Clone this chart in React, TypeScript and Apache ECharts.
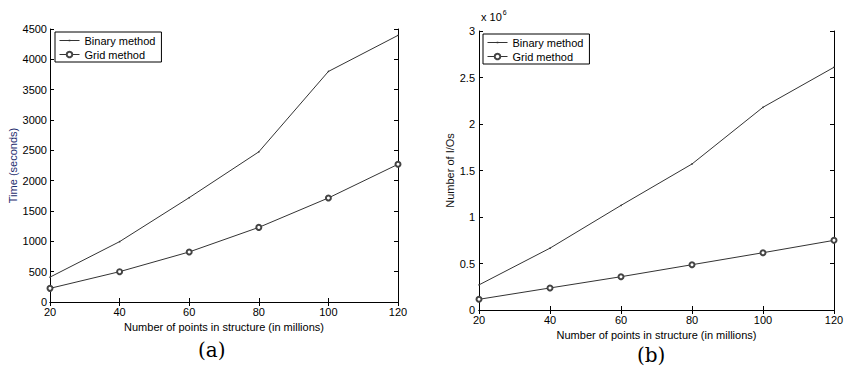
import React, { useEffect, useRef } from "react";
import * as echarts from "echarts";

const xPoints = [20, 40, 60, 80, 100, 120];
const timeBinary = [410, 995, 1720, 2475, 3800, 4395];
const timeGrid = [225, 500, 825, 1230, 1715, 2270];
const ioBinary = [0.27, 0.665, 1.125, 1.57, 2.18, 2.61];
const ioGrid = [0.115, 0.237, 0.358, 0.487, 0.616, 0.749];
const seriesNames = ["Binary method", "Grid method"];
const xName = "Number of points in structure (in millions)";

const FONT = "Liberation Sans, Arial, Helvetica, sans-serif";
const LINE = "#333333";

function pairs(ys: number[]) {
  return xPoints.map((x, i) => [x, ys[i]]);
}

const binaryIcon =
  "path://M0,4.6 L20,4.6 L20,5.4 L0,5.4 Z M9.2,4.2 L10.8,4.2 L10.8,5.8 L9.2,5.8 Z";

export default function App() {
  const ref = useRef<HTMLDivElement>(null);
  useEffect(() => {
    if (!ref.current) return;
    const chart = echarts.init(ref.current, null, { renderer: "svg" });
    const tickLabel = { color: "#000", fontSize: 11, fontFamily: FONT, formatter: (v: number) => String(v) };
    const axisLine = { show: true, lineStyle: { color: "#000", width: 1 } };
    const tick = { show: true, inside: true, length: 4, lineStyle: { color: "#000" } };
    const xMain = (gridIndex: number, gap: number) => ({
      type: "value", gridIndex, min: 20, max: 120, interval: 20, position: "bottom",
      axisLine, axisTick: tick, splitLine: { show: false },
      axisLabel: { ...tickLabel, margin: 4 },
      name: xName, nameLocation: "middle", nameGap: gap,
      nameTextStyle: { color: "#000", fontSize: 11, fontFamily: FONT },
    });
    const xMirror = (gridIndex: number) => ({
      type: "value", gridIndex, min: 20, max: 120, interval: 20, position: "top",
      axisLine, axisTick: tick, splitLine: { show: false }, axisLabel: { show: false },
    });
    const legend = (left: number, top: number) => ({
      left, top, orient: "vertical",
      data: [
        { name: seriesNames[0], icon: binaryIcon },
        { name: seriesNames[1] },
      ],
      borderColor: "#000", borderWidth: 1, borderRadius: 0,
      padding: [3, 6, 2, 4], itemGap: 3, itemWidth: 20, itemHeight: 7,
      backgroundColor: "#fff",
      lineStyle: { width: 1 },
      textStyle: { color: "#000", fontSize: 11, fontFamily: FONT },
    });
    const gridSeries = (name: string, xi: number, yi: number, data: number[]) => ({
      name, type: "line", xAxisIndex: xi, yAxisIndex: yi,
      data: pairs(data), symbol: "emptyCircle", symbolSize: 5,
      lineStyle: { color: LINE, width: 1 },
      itemStyle: { color: "#444", borderColor: "#444", borderWidth: 1 },
    });
    const binSeries = (name: string, xi: number, yi: number, data: number[]) => ({
      name, type: "line", xAxisIndex: xi, yAxisIndex: yi,
      data: pairs(data), symbol: "circle", symbolSize: 1.5,
      lineStyle: { color: LINE, width: 1 }, itemStyle: { color: LINE },
    });
    chart.setOption({
      animation: false,
      backgroundColor: "#fff",
      grid: [
        { left: 50, top: 29, width: 348, height: 273 },
        { left: 479, top: 31, width: 355, height: 279 },
      ],
      xAxis: [xMain(0, 15), xMirror(0), xMain(1, 16), xMirror(1)],
      yAxis: [
        {
          type: "value", gridIndex: 0, min: 0, max: 4500, interval: 500, position: "left",
          axisLine, axisTick: tick, splitLine: { show: false },
          axisLabel: { ...tickLabel, margin: 3 },
          name: "Time (seconds)", nameLocation: "middle", nameGap: 27,
          nameTextStyle: { color: "#1e2d6e", fontSize: 11, fontFamily: FONT },
        },
        {
          type: "value", gridIndex: 0, min: 0, max: 4500, interval: 500, position: "right",
          axisLine, axisTick: tick, splitLine: { show: false }, axisLabel: { show: false },
        },
        {
          type: "value", gridIndex: 1, min: 0, max: 3, interval: 0.5, position: "left",
          axisLine, axisTick: tick, splitLine: { show: false },
          axisLabel: { ...tickLabel, margin: 4 },
          name: "Number of I/Os", nameLocation: "middle", nameGap: 20,
          nameTextStyle: { color: "#111", fontSize: 11, fontFamily: FONT },
        },
        {
          type: "value", gridIndex: 1, min: 0, max: 3, interval: 0.5, position: "right",
          axisLine, axisTick: tick, splitLine: { show: false }, axisLabel: { show: false },
        },
      ],
      legend: [legend(55, 32), legend(483, 34)],
      series: [
        binSeries(seriesNames[0], 0, 0, timeBinary),
        gridSeries(seriesNames[1], 0, 0, timeGrid),
        binSeries(seriesNames[0], 2, 2, ioBinary),
        gridSeries(seriesNames[1], 2, 2, ioGrid),
      ],
      graphic: [
        {
          type: "text", left: 481, top: 9,
          style: {
            text: "{a|x 10}{s|6}",
            rich: {
              a: { fontSize: 11, fontFamily: FONT, fill: "#000" },
              s: { fontSize: 7, fontFamily: FONT, fill: "#000", verticalAlign: "top", padding: [0, 0, 8, 1] },
            },
          },
        },
        {
          type: "text", left: 198, top: 340,
          style: { text: "(a)", fontSize: 20, fontFamily: "DejaVu Serif, Liberation Serif, serif", fill: "#000" },
        },
        {
          type: "text", left: 637, top: 345,
          style: { text: "(b)", fontSize: 20, fontFamily: "DejaVu Serif, Liberation Serif, serif", fill: "#000" },
        },
      ],
    });
    return () => chart.dispose();
  }, []);
  return <div ref={ref} style={{ width: 856, height: 376, position: "absolute", left: 0, top: 0 }} />;
}
